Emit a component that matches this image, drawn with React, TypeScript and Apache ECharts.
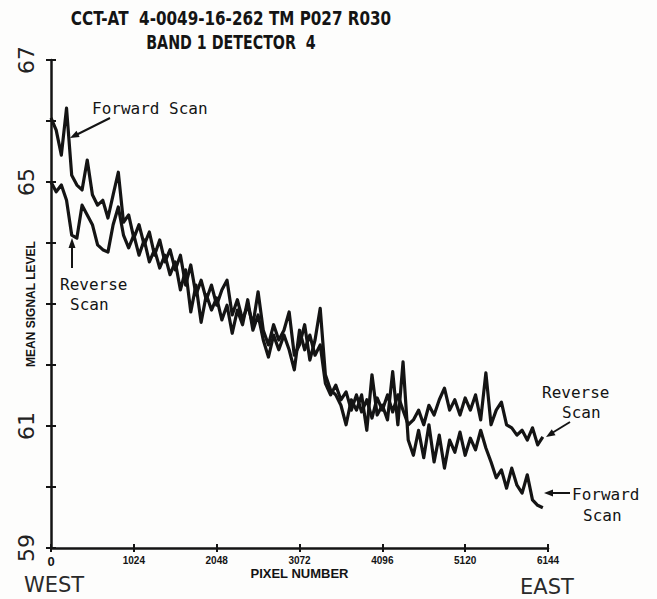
import React, { useEffect, useRef } from "react";
import * as echarts from "echarts";

// Pixel number (x) sampled every 64 pixels
const pixelStep = 64;
const forwardScan = [
  66.05, 65.85, 65.44, 66.21, 65.11, 64.95, 64.87, 65.36, 64.79, 64.62,
  64.70, 64.41, 64.79, 65.16, 64.34, 64.46, 64.08, 64.30, 63.97, 64.18,
  63.80, 64.05, 63.69, 63.89, 63.56, 63.80, 63.31, 63.64, 63.15, 63.39,
  63.07, 63.31, 62.98, 63.23, 63.39, 62.82, 63.07, 62.74, 62.98, 62.66,
  63.20, 62.57, 62.33, 62.66, 62.41, 62.57, 62.87, 62.16, 62.33, 62.66,
  62.08, 62.41, 62.93, 61.84, 61.59, 61.51, 61.34, 61.02, 61.43, 61.26,
  61.51, 60.93, 61.84, 61.18, 61.34, 61.10, 61.89, 61.02, 62.05, 60.77,
  60.52, 60.93, 60.48, 61.02, 60.41, 60.85, 60.31, 60.77, 60.57, 60.90,
  60.52, 60.80, 60.61, 60.93, 60.64, 60.41, 60.15, 60.28, 59.98, 60.31,
  60.03, 59.90, 60.20, 59.79, 59.70, 59.66,
];
const reverseScan = [
  65.00, 64.84, 64.95, 64.70, 64.13, 64.08, 64.62, 64.46, 64.30, 63.97,
  63.89, 63.85, 64.30, 64.59, 64.13, 63.92, 64.13, 63.80, 64.05, 63.69,
  63.89, 63.59, 63.80, 63.48, 63.69, 63.23, 63.56, 62.87, 63.31, 62.70,
  63.15, 62.90, 63.10, 62.74, 62.98, 62.52, 62.90, 62.66, 63.07, 62.57,
  62.82, 62.41, 62.13, 62.49, 62.25, 62.49, 62.25, 61.92, 62.57, 62.25,
  62.49, 62.16, 62.33, 61.70, 61.51, 61.67, 61.43, 61.56, 61.26, 61.51,
  61.23, 61.43, 61.13, 61.46, 61.26, 61.51, 61.23, 61.51, 61.26, 61.02,
  61.10, 61.26, 61.02, 61.34, 61.18, 61.43, 61.62, 61.26, 61.43, 61.18,
  61.46, 61.26, 61.51, 61.10, 61.87, 61.02, 61.26, 61.39, 61.02, 60.97,
  60.85, 60.93, 60.77, 60.97, 60.69, 60.82,
];
const xTickLabels = [0, 1024, 2048, 3072, 4096, 5120, 6144];
const yTickLabels = [59, 61, 65, 67];

const titleLine1 = "CCT-AT  4-0049-16-262 TM P027 R030";
const titleLine2 = "BAND 1 DETECTOR  4";

export default function App() {
  const ref = useRef<HTMLDivElement>(null);
  useEffect(() => {
    if (!ref.current) return;
    const chart = echarts.init(ref.current, undefined, { renderer: "svg" });
    const toPairs = (arr: number[]) => arr.map((v, i) => [i * pixelStep, v]);
    const ink = "#141414";
    const mono = '"DejaVu Sans Mono"';
    const annot = (text: string, x: number, y: number) => ({
      type: "text",
      x,
      y,
      style: { text, font: `16px ${mono}`, fill: ink, textAlign: "left", textVerticalAlign: "middle" },
    });
    const arrowLine = (x1: number, y1: number, x2: number, y2: number) => ({
      type: "line",
      shape: { x1, y1, x2, y2 },
      style: { stroke: ink, lineWidth: 2 },
    });
    const head = (pts: number[][]) => ({ type: "polygon", shape: { points: pts }, style: { fill: ink } });

    const option: any = {
      animation: false,
      backgroundColor: "#fdfdfc",
      grid: { left: 51, top: 60, right: 109, bottom: 51, containLabel: false, outerBoundsMode: "none" },
      xAxis: [
        {
          type: "value",
          min: 0,
          max: 6144,
          interval: 1024,
          position: "bottom",
          name: "PIXEL NUMBER",
          nameLocation: "middle",
          nameGap: 19,
          nameMoveOverlap: false,
          nameTextStyle: { fontFamily: "Liberation Sans", fontWeight: "bold", fontSize: 13, color: ink },
          axisLine: { lineStyle: { color: ink, width: 2.5 } },
          axisTick: { length: 4, lineStyle: { color: ink, width: 2 } },
          splitLine: { show: false },
          axisLabel: {
            margin: 7,
            fontFamily: "Liberation Sans",
            fontWeight: "bold",
            fontSize: 10,
            color: ink,
            formatter: (v: number) =>
              xTickLabels.includes(v) ? (v === 0 ? "{z|0}" : String(v)) : "",
            rich: { z: { fontSize: 13, fontWeight: "bold", fontFamily: "Liberation Sans", color: ink } },
          },
        },
        {
          type: "value",
          min: 0,
          max: 6144,
          interval: 1024,
          position: "bottom",
          axisLine: { show: false },
          axisTick: { inside: true, length: 4, lineStyle: { color: ink, width: 2 } },
          axisLabel: { show: false },
          splitLine: { show: false },
        },
      ],
      yAxis: [
        {
          type: "value",
          min: 59,
          max: 67,
          interval: 1,
          position: "left",
          name: "MEAN SIGNAL LEVEL",
          nameLocation: "middle",
          nameGap: 14,
          nameMoveOverlap: false,
          nameTextStyle: { fontFamily: "Liberation Sans", fontWeight: "bold", fontSize: 12, color: ink },
          axisLine: { lineStyle: { color: ink, width: 2.5 } },
          axisTick: { length: 5, lineStyle: { color: ink, width: 2 } },
          splitLine: { show: false },
          axisLabel: {
            rotate: 90,
            margin: 14,
            fontFamily: "DejaVu Sans",
            fontSize: 22,
            color: "#222",
            formatter: (v: number) => (yTickLabels.includes(v) ? String(v) : ""),
          },
        },
        {
          type: "value",
          min: 59,
          max: 67,
          interval: 1,
          position: "left",
          axisLine: { show: false },
          axisTick: { inside: true, length: 5, lineStyle: { color: ink, width: 2 } },
          axisLabel: { show: false },
          splitLine: { show: false },
        },
      ],
      series: [
        {
          name: "Forward Scan",
          type: "line",
          xAxisIndex: 0,
          yAxisIndex: 0,
          showSymbol: false,
          data: toPairs(forwardScan),
          lineStyle: { color: ink, width: 3.2, join: "round" },
        },
        {
          name: "Reverse Scan",
          type: "line",
          xAxisIndex: 0,
          yAxisIndex: 0,
          showSymbol: false,
          data: toPairs(reverseScan),
          lineStyle: { color: ink, width: 3.2, join: "round" },
        },
      ],
      graphic: [
        {
          type: "text",
          x: 231,
          y: 18,
          scaleX: 0.8,
          style: { text: titleLine1, font: 'bold 19px "DejaVu Sans"', fill: ink, textAlign: "center", textVerticalAlign: "middle" },
        },
        {
          type: "text",
          x: 231,
          y: 42,
          scaleX: 0.75,
          style: { text: titleLine2, font: 'bold 19px "DejaVu Sans"', fill: ink, textAlign: "center", textVerticalAlign: "middle" },
        },
        annot("Forward Scan", 92, 108),
        arrowLine(110, 118, 76, 135),
        head([[70, 138], [79.6, 137.1], [76.5, 130.8]]),
        annot("Reverse", 60, 284),
        annot("Scan", 70, 304),
        arrowLine(72, 268, 72, 246),
        head([[72, 238], [68.5, 248], [75.5, 248]]),
        annot("Reverse", 542, 392),
        annot("Scan", 562, 412),
        arrowLine(570, 422, 552, 433),
        head([[546, 437], [555.5, 435.2], [551.8, 429.3]]),
        annot("Forward", 572, 494),
        annot("Scan", 583, 515),
        arrowLine(570, 493, 551, 493),
        head([[544, 493], [553, 489.5], [553, 496.5]]),
        {
          type: "text",
          x: 24,
          y: 585,
          style: { text: "WEST", font: '21px "DejaVu Sans"', fill: "#2a2a2a", textAlign: "left", textVerticalAlign: "middle" },
        },
        {
          type: "text",
          x: 520,
          y: 587,
          style: { text: "EAST", font: '21px "DejaVu Sans"', fill: "#2a2a2a", textAlign: "left", textVerticalAlign: "middle" },
        },
      ],
    };
    chart.setOption(option);
    return () => chart.dispose();
  }, []);
  return (
    <div
      ref={ref}
      style={{ position: "absolute", left: 0, top: 0, width: 657, height: 599 }}
    />
  );
}
